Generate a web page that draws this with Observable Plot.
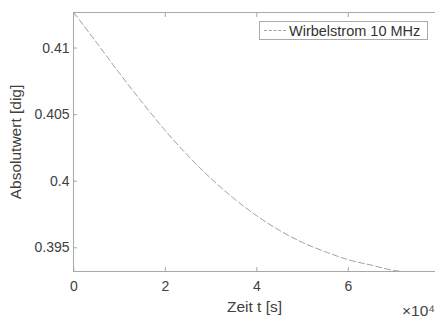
<!DOCTYPE html>
<html>
<head>
<meta charset="utf-8">
<script src="https://cdn.jsdelivr.net/npm/d3@7"></script>
<script src="https://cdn.jsdelivr.net/npm/@observablehq/plot@0.6"></script>
<style>
  html, body { margin: 0; padding: 0; background: #fff; }
  #wrap { position: relative; width: 435px; height: 320px; overflow: hidden; font-family: "Liberation Sans", Arial, sans-serif; }
  #legend { position: absolute; left: 259px; top: 21px; width: 169px; height: 19px; border: 1px solid #aaa; background: #fff; box-sizing: border-box; display: flex; align-items: center; font-size: 14.5px; color: #333; white-space: nowrap; }
  #legend .sample { width: 22px; height: 0; border-top: 1px dashed #a0a0a0; margin: 0 3px 0 4px; }
  #exp { position: absolute; left: 402px; top: 302px; font-size: 15.5px; color: #444; white-space: nowrap; }
</style>
</head>
<body>
<div id="wrap">
  <div id="chart"></div>
  <div id="legend"><div class="sample"></div><span id="legendText"></span></div>
  <div id="exp"></div>
</div>
<script>
// Time in units of 10^4 s
const timeE4 = [0, 0.5, 1, 1.5, 2, 2.5, 3, 3.5, 4, 4.5, 5, 5.5, 6, 6.5, 7, 7.2];
// Absolute value [dig]
const absValue = [0.41267, 0.4104, 0.4081, 0.4059, 0.4038, 0.4019, 0.4002, 0.3987, 0.3974, 0.3963, 0.3954, 0.3947, 0.3941, 0.3937, 0.3933, 0.39322];
const seriesName = "Wirbelstrom 10 MHz";
const xTicks = [0, 2, 4, 6, 8];
const yTicks = [0.395, 0.4, 0.405, 0.41];
const yTickLabels = ["0.395", "0.4", "0.405", "0.41"];
const xLabel = "Zeit t [s]";
const yLabel = "Absolutwert [dig]";
const xExponent = "×10⁴";

const data = timeE4.map((t, i) => ({t, v: absValue[i]}));
const axisColor = "#a8a8a8";
const textColor = "#404040";

const chart = Plot.plot({
  width: 435,
  height: 320,
  marginLeft: 73,
  marginTop: 12,
  marginBottom: 49,
  marginRight: 0,
  style: {fontFamily: "'Liberation Sans', Arial, sans-serif", fontSize: "14px", color: textColor, background: "#fff"},
  x: {domain: [0, 8], range: [73.3, 439.3]},
  y: {domain: [0.39322, 0.41267]},
  marks: [
    Plot.line(data, {x: "t", y: "v", stroke: "#a0a0a0", strokeWidth: 1, strokeDasharray: "6,3", curve: "monotone-x", clip: true}),
    Plot.axisX(xTicks, {anchor: "bottom", tickSize: 0, tickPadding: 10, tickFormat: d => String(d), fontSize: 14, label: null, fill: textColor}),
    Plot.axisX(xTicks, {anchor: "bottom", tickSize: -4, text: null, label: null, stroke: axisColor}),
    Plot.axisX(xTicks, {anchor: "top", tickSize: -4, text: null, label: null, stroke: axisColor}),
    Plot.axisY(yTicks, {anchor: "left", tickSize: 0, tickPadding: 4, tickFormat: (d, i) => yTickLabels[i], fontSize: 14, label: null, fill: textColor}),
    Plot.axisY(yTicks, {anchor: "left", tickSize: -4, text: null, label: null, stroke: axisColor}),
    Plot.frame({stroke: axisColor}),
    Plot.text([xLabel], {frameAnchor: "bottom", dy: 36, lineAnchor: "middle", textAnchor: "middle", fontSize: 15.5, fill: textColor, text: d => d}),
    Plot.text([yLabel], {frameAnchor: "left", dx: -57, rotate: -90, textAnchor: "middle", lineAnchor: "middle", fontSize: 15.5, fill: textColor, text: d => d})
  ]
});
document.getElementById("chart").appendChild(chart);
document.getElementById("legendText").textContent = seriesName;
document.getElementById("exp").textContent = xExponent;
</script>
</body>
</html>
